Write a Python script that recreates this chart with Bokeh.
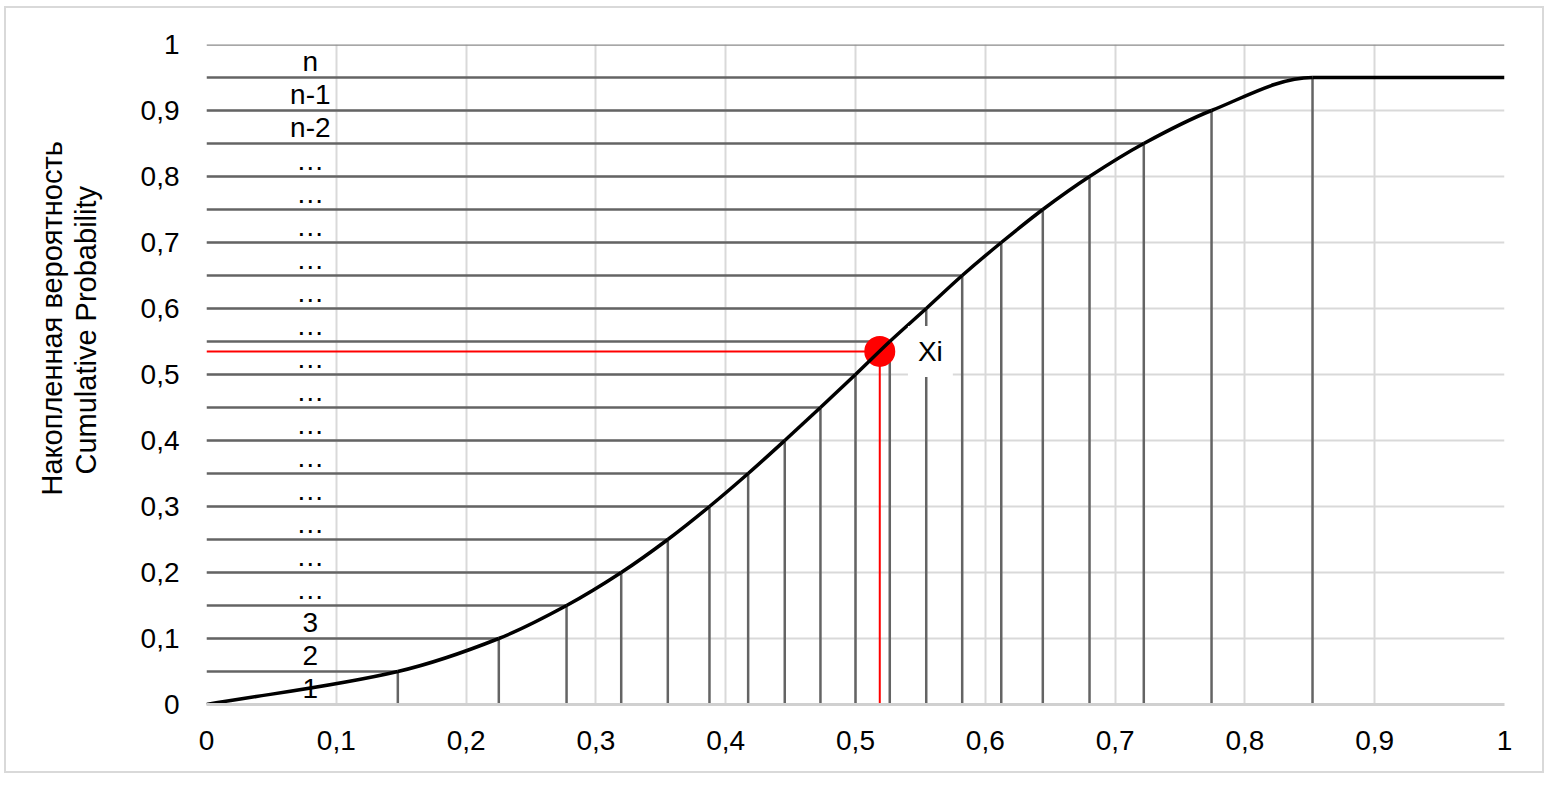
from bokeh.plotting import figure
from bokeh.models import FixedTicker, Title, Label, ColumnDataSource, CustomJSTickFormatter
from bokeh.embed import file_html
from bokeh.resources import INLINE
from bokeh.core.properties import value

# ---------------- data ----------------
x_ticks = [0, 0.1, 0.2, 0.3, 0.4, 0.5, 0.6, 0.7, 0.8, 0.9, 1]
x_tick_labels = ["0", "0,1", "0,2", "0,3", "0,4", "0,5", "0,6", "0,7", "0,8", "0,9", "1"]
y_ticks = [0, 0.1, 0.2, 0.3, 0.4, 0.5, 0.6, 0.7, 0.8, 0.9, 1]
y_tick_labels = ["0", "0,1", "0,2", "0,3", "0,4", "0,5", "0,6", "0,7", "0,8", "0,9", "1"]

# cumulative probability levels and the x where the curve reaches them
levels = [0.05, 0.10, 0.15, 0.20, 0.25, 0.30, 0.35, 0.40, 0.45, 0.50,
          0.55, 0.60, 0.65, 0.70, 0.75, 0.80, 0.85, 0.90, 0.95]
curve_x = [0.1474, 0.2252, 0.2774, 0.3195, 0.3554, 0.3875, 0.4173, 0.4455, 0.4730, 0.5000,
           0.5264, 0.5545, 0.5822, 0.6123, 0.6443, 0.6803, 0.7221, 0.7743, 0.8521]
curve_start_x = 0.0
curve_start_y = 0.0
curve_end_x = 1.0
curve_end_y = 0.95
top_level = 1.0

band_labels = ["1", "2", "3"] + ["…"] * 14 + ["n-2", "n-1", "n"]
band_centers = [0.025, 0.075, 0.125, 0.175, 0.225, 0.275, 0.325, 0.375, 0.425, 0.475,
                0.525, 0.575, 0.625, 0.675, 0.725, 0.775, 0.825, 0.875, 0.925, 0.975]
band_label_x = 0.08

xi_x = 0.5187
xi_y = 0.535
xi_text = "Xi"

y_title_ru = "Накопленная вероятность"
y_title_en = "Cumulative Probability"

FONT = "Liberation Sans"
FS = "28px"
TFS = "29px"

# ---------------- figure ----------------
p = figure(width=1540, height=767, x_range=(0, 1), y_range=(0, 1),
           output_backend="svg", toolbar_location=None,
           min_border_left=200, min_border_right=42,
           min_border_top=36, min_border_bottom=71,
           styles={"border": "2px solid #d9d9d9", "margin-left": "4px", "margin-top": "6px"})
p.outline_line_color = None
p.background_fill_color = "white"
p.border_fill_color = "white"

for g, t in ((p.xgrid, x_ticks), (p.ygrid, y_ticks)):
    g.ticker = FixedTicker(ticks=t)
    g.grid_line_color = "#d9d9d9"
    g.grid_line_width = 2

fmt_code = """
let best = 0, bd = Infinity;
for (let i = 0; i < tvals.length; i++) {
  const dd = Math.abs(tvals[i] - tick);
  if (dd < bd) { bd = dd; best = i; }
}
return tlabels[best];
"""
p.xaxis.ticker = FixedTicker(ticks=x_ticks)
p.xaxis.formatter = CustomJSTickFormatter(args=dict(tvals=x_ticks, tlabels=x_tick_labels), code=fmt_code)
p.yaxis.ticker = FixedTicker(ticks=y_ticks)
p.yaxis.formatter = CustomJSTickFormatter(args=dict(tvals=y_ticks, tlabels=y_tick_labels), code=fmt_code)
for ax in (p.xaxis, p.yaxis):
    ax.major_tick_in = 0
    ax.major_tick_out = 0
    ax.minor_tick_line_color = None
    ax.major_tick_line_color = None
    ax.major_label_text_font = FONT
    ax.major_label_text_font_size = FS
    ax.major_label_text_color = "black"
p.xaxis.axis_line_color = "#d0d0d0"
p.xaxis.axis_line_width = 3
p.xaxis.major_label_standoff = 26
p.yaxis.axis_line_color = None
p.yaxis.major_label_standoff = 27
# invisible spacer so the two vertical titles sit further from the tick labels
p.yaxis.axis_label = " "
p.yaxis.axis_label_text_font_size = "2px"
p.yaxis.axis_label_standoff = 31

p.add_layout(Title(text=y_title_en, align="left", text_font=FONT, text_font_size=TFS,
                   text_font_style="normal", text_color="black", standoff=0, offset=230), "left")
p.add_layout(Title(text=y_title_ru, align="left", text_font=FONT, text_font_size=TFS,
                   text_font_style="normal", text_color="black", standoff=0, offset=209), "left")

# horizontal lines from axis to curve, vertical lines from curve to axis
src = ColumnDataSource(dict(
    x0=[0.0] * len(levels), cx=curve_x, lv=levels, zero=[0.0] * len(levels)))
p.segment(x0="x0", y0="lv", x1="cx", y1="lv", source=src, line_color="#646464", line_width=2.5)
p.segment(x0="cx", y0="lv", x1="cx", y1="zero", source=src, line_color="#646464", line_width=2.5)
p.segment(x0=[0.0], y0=[top_level], x1=[1.0], y1=[top_level], line_color="#8a8a8a", line_width=2.5)

# red marker lines
p.segment(x0=[0.0], y0=[xi_y], x1=[xi_x], y1=[xi_y], line_color="#ff0000", line_width=2)
p.segment(x0=[xi_x], y0=[xi_y], x1=[xi_x], y1=[0.0], line_color="#ff0000", line_width=2)
p.scatter([xi_x], [xi_y], size=31, fill_color="#ff0000", line_color=None)

# smooth monotone curve (cubic Bezier pieces through the read points)
px = [curve_start_x] + curve_x + [curve_end_x]
py = [curve_start_y] + levels + [curve_end_y]
n = len(px)
h = [px[i + 1] - px[i] for i in range(n - 1)]
d = [(py[i + 1] - py[i]) / h[i] for i in range(n - 1)]
m = [0.0] * n
m[0] = d[0]
m[-1] = d[-1]
for i in range(1, n - 1):
    if d[i - 1] * d[i] <= 0:
        m[i] = 0.0
    else:
        w1 = 2 * h[i] + h[i - 1]
        w2 = h[i] + 2 * h[i - 1]
        m[i] = (w1 + w2) / (w1 / d[i - 1] + w2 / d[i])
bz = dict(x0=[], y0=[], x1=[], y1=[], cx0=[], cy0=[], cx1=[], cy1=[])
for i in range(n - 1):
    bz["x0"].append(px[i]); bz["y0"].append(py[i])
    bz["x1"].append(px[i + 1]); bz["y1"].append(py[i + 1])
    bz["cx0"].append(px[i] + h[i] / 3); bz["cy0"].append(py[i] + m[i] * h[i] / 3)
    bz["cx1"].append(px[i + 1] - h[i] / 3); bz["cy1"].append(py[i + 1] - m[i + 1] * h[i] / 3)
p.bezier(x0="x0", y0="y0", x1="x1", y1="y1", cx0="cx0", cy0="cy0", cx1="cx1", cy1="cy1",
         source=ColumnDataSource(bz), line_color="black", line_width=3.5)

# band labels
p.text(x=[band_label_x] * len(band_labels), y=band_centers, text=band_labels,
       text_font=value(FONT), text_font_size=FS, text_color="black",
       text_align="center", text_baseline="middle")

# Xi label with white box
p.add_layout(Label(x=xi_x + 0.039, y=xi_y, text=xi_text, text_font=FONT, text_font_size=FS,
                   text_color="black", text_align="center", text_baseline="middle",
                   background_fill_color="white", padding=10))

open("out.html", "w").write(file_html(p, INLINE))
